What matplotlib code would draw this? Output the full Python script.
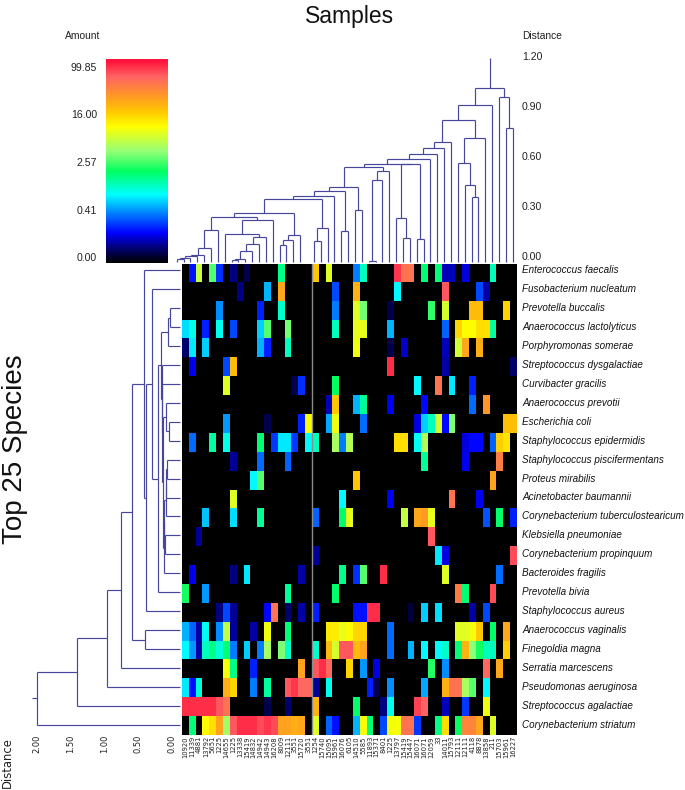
import numpy as np
import matplotlib
matplotlib.use("Agg")
import matplotlib.pyplot as plt
import matplotlib.transforms as transforms
from matplotlib.colors import LinearSegmentedColormap

W, H = 685, 790

species = [
    "Enterococcus faecalis", "Fusobacterium nucleatum", "Prevotella buccalis",
    "Anaerococcus lactolyticus", "Porphyromonas somerae", "Streptococcus dysgalactiae",
    "Curvibacter gracilis", "Anaerococcus prevotii", "Escherichia coli",
    "Staphylococcus epidermidis", "Staphylococcus piscifermentans", "Proteus mirabilis",
    "Acinetobacter baumannii", "Corynebacterium tuberculostearicum", "Klebsiella pneumoniae",
    "Corynebacterium propinquum", "Bacteroides fragilis", "Prevotella bivia",
    "Staphylococcus aureus", "Anaerococcus vaginalis", "Finegoldia magna",
    "Serratia marcescens", "Pseudomonas aeruginosa", "Streptococcus agalactiae",
    "Corynebacterium striatum",
]

samples = [
    "10920", "11339", "4881", "13792", "5651", "1225", "14655", "1225", "13338", "15419",
    "14832", "14942", "14943", "16208", "8009", "12111", "3551", "15720", "3551", "1254",
    "15740", "15095", "15961", "16076", "6105", "14510", "5585", "11893", "15371", "8401",
    "1225", "13797", "15419", "15447", "16071", "16071", "12059", "33", "14011", "15793",
    "12111", "12111", "4118", "8878", "13858", "211", "15703", "15961", "16227",
]

# position on the colour scale (0 bottom, 1 top) per non empty cell, {column: level}
cellLevels = [
    {1: .16, 2: .6, 4: .5, 5: .18, 7: .08, 9: .05, 14: .42, 19: .74, 21: .63, 25: .24, 26: .38,
     31: .95, 32: .88, 33: .88, 35: .43, 37: .43, 38: .11, 39: .11, 41: .13, 45: .38},
    {8: .08, 12: .28, 14: .79, 22: .2, 25: .77, 31: .33, 38: .92, 43: .2, 44: .1},
    {5: .25, 11: .17, 14: .37, 22: .24, 25: .63, 26: .52, 30: .05, 36: .48, 38: .62, 42: .76,
     43: .76, 47: .72},
    {0: .31, 1: .35, 3: .17, 5: .34, 7: .2, 11: .3, 12: .5, 15: .52, 22: .38, 25: .64, 26: .64,
     30: .28, 38: .22, 40: .72, 41: .67, 42: .67, 43: .71, 44: .71, 45: .4},
    {0: .07, 1: .32, 3: .3, 11: .28, 12: .17, 15: .38, 25: .65, 30: .05, 32: .12, 38: .11,
     40: .61, 41: .79, 43: .78},
    {1: .14, 6: .2, 7: .76, 30: .96, 38: .1, 48: .07},
    {6: .63, 16: .05, 17: .18, 22: .45, 34: .33, 37: .88, 39: .32, 42: .17},
    {21: .11, 22: .74, 25: .28, 26: .41, 30: .14, 35: .15, 42: .23, 44: .82},
    {6: .26, 12: .05, 17: .17, 18: .66, 21: .27, 22: .65, 26: .23, 34: .13, 35: .3, 36: .38,
     37: .62, 38: .15, 39: .53, 47: .75, 48: .75},
    {1: .23, 4: .4, 6: .35, 11: .43, 13: .19, 14: .32, 15: .32, 16: .19, 18: .33, 19: .38,
     22: .57, 23: .24, 24: .58, 31: .71, 32: .71, 34: .34, 35: .58, 41: .13, 42: .15, 43: .15,
     45: .22, 46: .73, 47: .7},
    {7: .09, 11: .23, 15: .22, 35: .41, 41: .14, 46: .86},
    {10: .33, 11: .5, 25: .74, 45: .8},
    {7: .63, 23: .33, 30: .14, 39: .88, 43: .14},
    {3: .29, 7: .31, 11: .41, 19: .22, 23: .44, 24: .64, 32: .6, 34: .79, 35: .81, 36: .64,
     44: .21, 46: .44, 48: .17},
    {2: .09, 36: .92},
    {19: .09, 37: .32, 38: .13, 48: .93},
    {1: .14, 7: .08, 9: .32, 17: .1, 23: .42, 25: .18, 26: .5, 29: .96, 38: .63, 46: .23},
    {0: .46, 3: .26, 15: .41, 22: .44, 40: .87, 41: .43, 45: .93},
    {5: .08, 6: .2, 7: .09, 12: .15, 13: .88, 15: .07, 17: .1, 19: .17, 25: .16, 26: .16,
     27: .96, 28: .96, 33: .04, 35: .3, 37: .31, 42: .1, 44: .2},
    {0: .28, 1: .22, 2: .1, 3: .34, 5: .25, 6: .6, 7: .09, 10: .1, 12: .65, 15: .43, 21: .69,
     22: .69, 23: .64, 24: .67, 25: .72, 26: .72, 30: .23, 40: .63, 41: .63, 42: .66, 43: .74,
     45: .44, 47: .79},
    {0: .33, 1: .26, 2: .1, 3: .38, 4: .42, 5: .36, 6: .43, 7: .24, 9: .3, 11: .24, 12: .57,
     14: .53, 15: .37, 19: .37, 21: .76, 22: .62, 23: .92, 24: .92, 25: .76, 26: .8, 30: .23,
     33: .28, 35: .33, 37: .33, 38: .37, 40: .43, 41: .77, 42: .54, 43: .46, 44: .38, 45: .38,
     47: .73},
    {6: .66, 7: .42, 10: .17, 17: .8, 19: .92, 20: .96, 21: .9, 24: .72, 26: .26, 28: .13,
     36: .47, 38: .25, 44: .9, 46: .79},
    {0: .32, 1: .16, 2: .36, 6: .78, 7: .72, 10: .24, 12: .4, 15: .92, 16: .95, 17: .9, 18: .9,
     19: .09, 21: .34, 27: .17, 28: .05, 30: .25, 35: .27, 38: .78, 39: .88, 40: .88, 41: .57,
     42: .5, 44: .33},
    {0: .96, 1: .96, 2: .96, 3: .96, 4: .96, 5: .92, 6: .88, 12: .05, 15: .07, 19: .77, 25: .44,
     29: .08, 30: .35, 34: .94, 35: .91, 38: .11, 41: .19, 44: .65},
    {1: .43, 3: .67, 4: .71, 5: .8, 6: .56, 7: .92, 8: .96, 9: .96, 10: .96, 11: .93, 12: .95,
     13: .93, 14: .8, 15: .8, 16: .78, 17: .79, 19: .63, 21: .22, 22: .16, 25: .28, 26: .66,
     27: .43, 29: .2, 30: .66, 31: .66, 32: .88, 33: .88, 34: .19, 37: .42, 38: .71, 40: .45,
     41: .85, 42: .85, 43: .79, 45: .63},
]

# dendrograms: (left, right, height), ids from 100 up are the earlier merges in order
topMerges = [
    (0, 1, .02), (100, 2, .026), (101, 3, .038), (102, 4, .04), (103, 5, .086), (104, 6, .19),
    (8, 9, .01), (106, 10, .018), (107, 11, .068), (108, 12, .108), (109, 13, .148),
    (7, 110, .17), (111, 14, .254), (105, 112, .27), (15, 16, .1), (114, 17, .134),
    (115, 18, .164), (113, 116, .294), (20, 21, .128), (118, 22, .206), (117, 119, .38),
    (120, 23, .398), (24, 25, .184), (121, 122, .426), (26, 27, .31), (123, 124, .452),
    (28, 29, .008), (126, 30, .494), (127, 31, .544), (125, 128, .572), (33, 34, .144),
    (32, 130, .264), (35, 36, .136), (131, 132, .586), (129, 133, .59), (134, 37, .618),
    (135, 38, .65), (136, 39, .686), (137, 40, .718), (43, 44, .388), (42, 139, .462),
    (41, 140, .594), (141, 45, .744), (138, 142, .852), (143, 46, .944), (48, 49, .806),
    (47, 145, .99), (144, 146, 1.042),
]
topRootEnd = 1.226

leftMerges = [
    (2, 3, .148), (100, 4, .183), (8, 9, .158), (7, 102, .212), (10, 11, .198), (104, 12, .2025),
    (105, 13, .212), (14, 15, .227), (106, 107, .232), (108, 16, .242), (103, 109, .252),
    (6, 110, .262), (5, 111, .272), (101, 112, .286), (113, 17, .321), (1, 114, .41),
    (115, 18, .499), (0, 116, .538), (19, 20, .514), (117, 118, .706), (119, 21, .879),
    (120, 22, 1.086), (121, 23, 1.521), (122, 24, 2.119),
]
leftRootEnd = 2.193

amountTicks = ["0.00", "0.41", "2.57", "16.00", "99.85"]
amountTickPx = [258, 211, 163, 115, 68]
topTicks = [0.0, 0.3, 0.6, 0.9, 1.2]
leftTicks = [0.0, 0.5, 1.0, 1.5, 2.0]

scaleStops = [0, .07, .145, .23, .333, .39, .447, .545, .667, .74, .82, .91, .985, 1]
scaleColors = ["#000000", "#000070", "#0000ff", "#0070ff", "#00ffff", "#00ffb0", "#00ff60",
               "#96ff78", "#ffff00", "#ffc800", "#ff9628", "#ff6464", "#ff143c", "#ff143c"]

lineColor = "#46469c"
textColor = "#222222"


def pxAxes(fig, left, top, right, bottom):
    ax = fig.add_axes([left / W, 1 - bottom / H, (right - left) / W, (bottom - top) / H])
    ax.set_axis_off()
    return ax


def drawDendrogram(ax, merges, rootEnd, horizontalLeaves=True):
    pos = {}
    height = {}

    def seg(a, b, c, d):
        # a,b along the leaves and c,d along the distance
        if horizontalLeaves:
            ax.plot([a, b], [c, d], color=lineColor, lw=0.85, clip_on=False, solid_capstyle="butt")
        else:
            ax.plot([c, d], [a, b], color=lineColor, lw=0.85, clip_on=False, solid_capstyle="butt")

    for idx, (l, r, h) in enumerate(merges):
        pl = pos.get(l, l)
        pr = pos.get(r, r)
        seg(pl, pl, height.get(l, 0), h)
        seg(pr, pr, height.get(r, 0), h)
        seg(pl, pr, h, h)
        pos[100 + idx] = (pl + pr) / 2
        height[100 + idx] = h
    seg(pos[99 + len(merges)], pos[99 + len(merges)], height[99 + len(merges)], rootEnd)


def main():
    plt.rcParams["font.family"] = ["Liberation Sans", "DejaVu Sans"]
    fig = plt.figure(figsize=(W / 100, H / 100), dpi=100)

    # heatmap
    nRows, nCols = len(species), len(samples)
    matrix = np.zeros((nRows, nCols))
    for i, row in enumerate(cellLevels):
        for col, level in row.items():
            matrix[i, col] = level
    cmap = LinearSegmentedColormap.from_list("amount", list(zip(scaleStops, scaleColors)))
    axHeat = pxAxes(fig, 182, 263.5, 182 + nCols * 6.83, 735)
    axHeat.imshow(matrix, cmap=cmap, vmin=0, vmax=1, aspect="auto", interpolation="nearest")
    axHeat.axvline(18.5, color="#8c8c8c", lw=1)
    labelTrans = transforms.blended_transform_factory(axHeat.transData, fig.transFigure)
    for c, name in enumerate(samples):
        # wide face, the sample ids are stretched along their length in the figure
        axHeat.text(c, 1 - 736 / H, name, transform=labelTrans, rotation=90, ha="center", va="top",
                    family="DejaVu Sans", fontsize=4.9, color=textColor, clip_on=False)

    # colour scale
    axBar = pxAxes(fig, 105.7, 58.7, 167.3, 263)
    gradient = np.linspace(1, 0, 256).reshape(-1, 1)
    axBar.imshow(gradient, cmap=cmap, vmin=0, vmax=1, aspect="auto")
    for label, y in zip(amountTicks, amountTickPx):
        fig.text(97 / W, 1 - y / H, label, ha="right", va="center", fontsize=7.6, color=textColor)
    fig.text(100 / W, 1 - 36 / H, "Amount", ha="right", va="center", fontsize=7.4, color=textColor)

    # top dendrogram
    axTop = pxAxes(fig, 176.7, 62, 176.7 + 49 * 6.857, 262)
    axTop.set_xlim(0, 49)
    axTop.set_ylim(0, 1.2)
    drawDendrogram(axTop, topMerges, topRootEnd)
    tickTrans = transforms.blended_transform_factory(fig.transFigure, axTop.transData)
    for v in topTicks:
        fig.text(522 / W, v + .03, "%.2f" % v, transform=tickTrans, ha="left", va="center",
                 fontsize=7.6, color=textColor)
    fig.text(522 / W, 1 - 36 / H, "Distance", ha="left", va="center", fontsize=7.4, color=textColor)

    # left dendrogram
    axLeft = pxAxes(fig, 45, 270.3, 180, 724.7)
    axLeft.set_xlim(2.0, 0)
    axLeft.set_ylim(24, 0)
    drawDendrogram(axLeft, leftMerges, leftRootEnd, horizontalLeaves=False)
    distTrans = transforms.blended_transform_factory(axLeft.transData, fig.transFigure)
    for v in leftTicks:
        axLeft.text(v + 8 / 67.5, 1 - 735 / H, "%.2f" % v, transform=distTrans, rotation=90,
                    ha="center", va="top", family="DejaVu Sans", fontsize=6, color=textColor,
                    clip_on=False)
    fig.text(7 / W, 1 - 737 / H, "Distance", rotation=90, ha="center", va="top",
             family="DejaVu Sans", fontsize=8.4, color=textColor)

    # species names follow the dendrogram leaves
    nameTrans = transforms.blended_transform_factory(fig.transFigure, axLeft.transData)
    for r, name in enumerate(species):
        fig.text(522 / W, r, name, transform=nameTrans, ha="left", va="center",
                 style="italic", fontsize=7.15, color="#111111")

    fig.text(350 / W, 1 - 16 / H, "Samples", ha="center", va="center", fontsize=16.5, color="#111111")
    fig.text(15 / W, 1 - 449 / H, "Top 25 Species", rotation=90, ha="center", va="center", fontsize=20,
             color="#111111")

    fig.savefig("out.png", dpi=100)


if __name__ == "__main__":
    main()
